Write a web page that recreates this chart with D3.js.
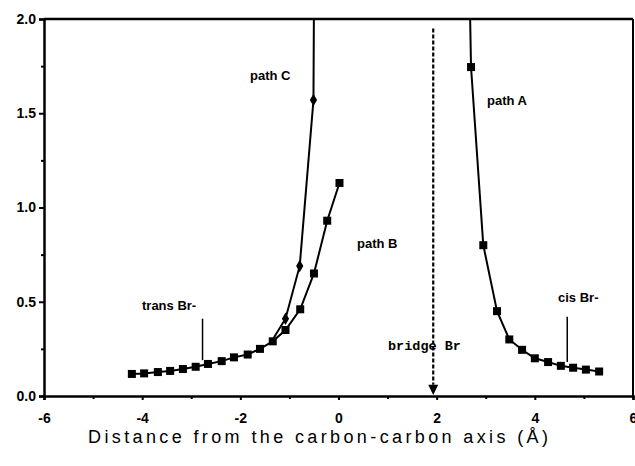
<!DOCTYPE html>
<html lang="en">
<head>
    <meta charset="UTF-8">
    <title>Distance chart</title>
    <script src="https://d3js.org/d3.v7.min.js"></script>
    <style>
        body { margin: 0; background: #fff; }
        text { font-family: "Liberation Sans", Arial, sans-serif; fill: #000; }
    </style>
</head>
<body>
    <script>
        // values
        var pathA_x = [2.64, 2.70, 2.95, 3.23, 3.48, 3.74, 4.00, 4.27, 4.53, 4.78, 5.04, 5.31];
        var pathA_y = [2.6, 1.745, 0.80, 0.45, 0.30, 0.245, 0.20, 0.18, 0.16, 0.15, 0.14, 0.13];

        var pathB_x = [-4.21, -3.96, -3.68, -3.43, -3.17, -2.91, -2.66, -2.38, -2.13, -1.85, -1.60, -1.34, -1.08, -0.78, -0.50, -0.23, 0.02];
        var pathB_y = [0.117, 0.12, 0.127, 0.133, 0.143, 0.155, 0.17, 0.185, 0.205, 0.22, 0.25, 0.29, 0.35, 0.46, 0.65, 0.93, 1.13];

        var pathC_x = [-1.34, -1.08, -0.79, -0.51, -0.49];
        var pathC_y = [0.30, 0.41, 0.69, 1.57, 2.6];

        var x_ticks = [-6, -4, -2, 0, 2, 4, 6];
        var y_ticks = [0, 0.5, 1.0, 1.5, 2.0];
        var bridge_x = 1.93;

        var width = 635, height = 466;
        var svg = d3.select('body').append('svg')
            .attr('width', width)
            .attr('height', height);

        var x = d3.scaleLinear().domain([-6, 6]).range([44, 633]);
        var y = d3.scaleLinear().domain([0, 2]).range([396, 19]);

        function zip(xs, ys) {
            return xs.map(function (v, i) { return {x: v, y: ys[i]}; });
        }
        var A = zip(pathA_x, pathA_y);
        var B = zip(pathB_x, pathB_y);
        var C = zip(pathC_x, pathC_y);

        svg.append('clipPath').attr('id', 'clip')
            .append('rect')
            .attr('x', x(-6)).attr('y', y(2))
            .attr('width', x(6) - x(-6)).attr('height', y(0) - y(2));

        // axes
        var xAxis = d3.axisBottom(x).tickValues(x_ticks).tickSize(4).tickPadding(13)
            .tickFormat(function (d) { return d < 0 ? '-' + Math.abs(d) : d; });
        var gx = svg.append('g').attr('transform', 'translate(0,' + y(0) + ')').call(xAxis);
        var xMinor = d3.axisBottom(x).tickValues([-5, -3, -1, 1, 3, 5]).tickSize(3).tickFormat('');
        svg.append('g').attr('transform', 'translate(0,' + y(0) + ')').call(xMinor)
            .select('.domain').remove();

        var yAxis = d3.axisLeft(y).tickValues(y_ticks).tickSize(5).tickPadding(3)
            .tickFormat(d3.format('.1f'));
        var gy = svg.append('g').attr('transform', 'translate(' + x(-6) + ',0)').call(yAxis);
        var yMinor = d3.axisLeft(y).tickValues([0.25, 0.75, 1.25, 1.75]).tickSize(3).tickFormat('');
        svg.append('g').attr('transform', 'translate(' + x(-6) + ',0)').call(yMinor)
            .select('.domain').remove();

        svg.selectAll('.domain').attr('stroke-width', 2.5);
        svg.selectAll('.tick line').attr('stroke-width', 2);
        gx.selectAll('text').style('font-size', '14px').style('font-weight', 'bold')
            .style('font-family', '"Liberation Sans", Arial, sans-serif');
        gy.selectAll('text').style('font-size', '14px').style('font-weight', 'bold')
            .style('font-family', '"Liberation Sans", Arial, sans-serif');

        // frame top and right
        svg.append('line').attr('x1', x(-6)).attr('x2', x(6)).attr('y1', y(2)).attr('y2', y(2))
            .attr('stroke', '#000').attr('stroke-width', 2.5);
        svg.append('line').attr('x1', x(6)).attr('x2', x(6)).attr('y1', y(2)).attr('y2', y(0))
            .attr('stroke', '#000').attr('stroke-width', 2);

        var line = d3.line().x(function (d) { return x(d.x); }).y(function (d) { return y(d.y); });
        var plot = svg.append('g').attr('clip-path', 'url(#clip)');

        [A, B, C].forEach(function (s) {
            plot.append('path').datum(s)
                .attr('d', line)
                .attr('fill', 'none')
                .attr('stroke', '#000')
                .attr('stroke-width', 2);
        });

        // square markers
        var sq = 8;
        plot.selectAll('.sqA').data(A.filter(function (d) { return d.y <= 2; }))
            .enter().append('rect')
            .attr('x', function (d) { return x(d.x) - sq / 2; })
            .attr('y', function (d) { return y(d.y) - sq / 2; })
            .attr('width', sq).attr('height', sq).attr('fill', '#000');
        plot.selectAll('.sqB').data(B)
            .enter().append('rect')
            .attr('x', function (d) { return x(d.x) - sq / 2; })
            .attr('y', function (d) { return y(d.y) - sq / 2; })
            .attr('width', sq).attr('height', sq).attr('fill', '#000');

        // diamond markers for path C
        var diamond = d3.symbol().type(d3.symbolDiamond).size(45);
        plot.selectAll('.dC').data(C.filter(function (d) { return d.y <= 2 && d.x > -1.2; }))
            .enter().append('path')
            .attr('d', diamond)
            .attr('transform', function (d) { return 'translate(' + x(d.x) + ',' + y(d.y) + ')'; })
            .attr('fill', '#000');

        // bridge arrow
        svg.append('line')
            .attr('x1', x(bridge_x)).attr('x2', x(bridge_x))
            .attr('y1', y(1.95)).attr('y2', y(0.06))
            .attr('stroke', '#000').attr('stroke-width', 2.2)
            .attr('stroke-dasharray', '4,2');
        svg.append('path')
            .attr('d', 'M' + (x(bridge_x) - 5) + ',' + y(0.06) + 'L' + (x(bridge_x) + 5) + ',' + y(0.06) +
                'L' + x(bridge_x) + ',' + (y(0) - 1) + 'Z')
            .attr('fill', '#000');

        // marker lines for trans / cis
        svg.append('line').attr('x1', x(-2.77)).attr('x2', x(-2.77))
            .attr('y1', y(0.41)).attr('y2', y(0.19)).attr('stroke', '#000').attr('stroke-width', 1.5);
        svg.append('line').attr('x1', x(4.66)).attr('x2', x(4.66))
            .attr('y1', y(0.42)).attr('y2', y(0.18)).attr('stroke', '#000').attr('stroke-width', 1.5);

        function label(t, lx, ly, opts) {
            var el = svg.append('text').attr('x', lx).attr('y', ly).text(t)
                .style('font-size', (opts && opts.size) || '13px')
                .style('font-weight', 'bold');
            if (opts && opts.family) el.style('font-family', opts.family);
            return el;
        }
        label('path C', 250, 80);
        label('path A', 487, 105);
        label('path B', 357, 248);
        label('trans  Br-', 142, 310);
        label('cis  Br-', 558, 302);
        label('bridge Br', 388, 350, {family: '"Liberation Mono", "DejaVu Sans Mono", monospace', size: '13.5px'});

        svg.append('text')
            .attr('x', 318).attr('y', 443)
            .attr('text-anchor', 'middle')
            .attr('textLength', 460)
            .attr('lengthAdjust', 'spacing')
            .style('font-size', '18px')
            .text('Distance from the carbon-carbon axis (\u00C5)');
    </script>
</body>
</html>
